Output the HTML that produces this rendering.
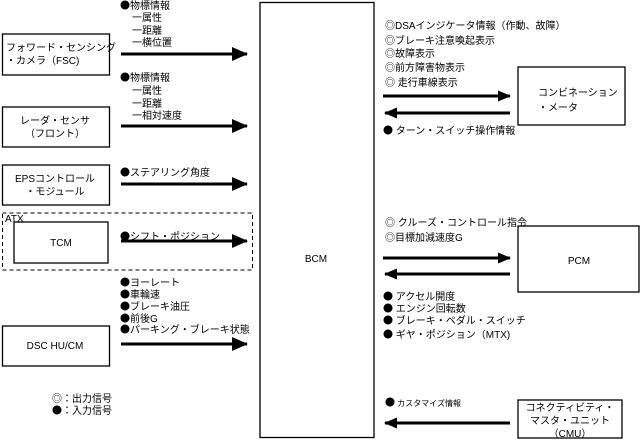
<!DOCTYPE html>
<html><head><meta charset="utf-8"><style>
html,body{margin:0;padding:0;background:#fff;}
svg{display:block;}
text{font-family:"Liberation Sans","Noto Sans CJK JP",sans-serif;font-size:10px;fill:#000;}
.b{font-family:"Noto Sans CJK JP",sans-serif;}
</style></head><body>
<svg width="643" height="441" viewBox="0 0 643 441" xmlns="http://www.w3.org/2000/svg">
<defs>
<marker id="ah" markerWidth="16" markerHeight="14" refX="15" refY="7" orient="auto" markerUnits="userSpaceOnUse"><path d="M0,0 L16,7 L0,14 Z" fill="#000"/></marker>
<marker id="ah2" markerWidth="13" markerHeight="11" refX="12" refY="5.5" orient="auto" markerUnits="userSpaceOnUse"><path d="M0,0 L13,5.5 L0,11 Z" fill="#000"/></marker>
</defs>
<g fill="none" stroke="#000" stroke-width="1.3">
<rect x="260" y="2.5" width="114" height="435"/>
<rect x="2.5" y="34" width="107" height="41"/>
<rect x="2.5" y="107" width="107" height="40"/>
<rect x="2.5" y="165" width="107" height="40"/>
<rect x="2.5" y="213" width="250" height="57" stroke-dasharray="4,3" stroke-width="1"/>
<rect x="14" y="222" width="94" height="41"/>
<rect x="2.5" y="326" width="107" height="40"/>
<rect x="518" y="67" width="107" height="58"/>
<rect x="518" y="226" width="121" height="66"/>
<rect x="518" y="400" width="104" height="38"/>
</g>
<g stroke="#000" stroke-width="3">
<line x1="121" y1="54" x2="247" y2="54" marker-end="url(#ah)"/>
<line x1="121" y1="126" x2="247" y2="126" marker-end="url(#ah)"/>
<line x1="121" y1="184" x2="247" y2="184" marker-end="url(#ah)"/>
<line x1="121" y1="241" x2="247" y2="241" marker-end="url(#ah)"/>
<line x1="121" y1="344" x2="247" y2="344" marker-end="url(#ah)"/>
<line x1="383" y1="96" x2="510" y2="96" marker-end="url(#ah2)"/>
<line x1="510" y1="113" x2="385" y2="113" marker-end="url(#ah2)"/>
<line x1="383" y1="258" x2="510" y2="258" marker-end="url(#ah2)"/>
<line x1="510" y1="274" x2="385" y2="274" marker-end="url(#ah2)"/>
<line x1="510" y1="423" x2="385" y2="423" marker-end="url(#ah2)"/>
</g>
<text x="316" y="262" text-anchor="middle">BCM</text>
<text x="6" y="51">フォワード・センシング</text>
<text x="6" y="64">・カメラ（FSC)</text>
<text x="55" y="124" text-anchor="middle">レーダ・センサ</text>
<text x="55" y="137" text-anchor="middle">（フロント）</text>
<text x="55" y="182" text-anchor="middle">EPSコントロール</text>
<text x="55" y="195" text-anchor="middle">・モジュール</text>
<text x="5" y="222">ATX</text>
<text x="61" y="246" text-anchor="middle">TCM</text>
<text x="55" y="349" text-anchor="middle">DSC HU/CM</text>
<text x="120" y="9"><tspan class="b">●</tspan>物標情報</text>
<text x="132" y="21">一属性</text>
<text x="132" y="34">一距離</text>
<text x="132" y="46">一横位置</text>
<text x="120" y="81"><tspan class="b">●</tspan>物標情報</text>
<text x="132" y="94">一属性</text>
<text x="132" y="107">一距離</text>
<text x="132" y="119">一相対速度</text>
<text x="120" y="176"><tspan class="b">●</tspan>ステアリング角度</text>
<text x="120" y="240"><tspan class="b">●</tspan>シフト・ポジション</text>
<text x="120" y="286"><tspan class="b">●</tspan>ヨーレート</text>
<text x="120" y="298"><tspan class="b">●</tspan>車輪速</text>
<text x="120" y="310"><tspan class="b">●</tspan>ブレーキ油圧</text>
<text x="120" y="322"><tspan class="b">●</tspan>前後G</text>
<text x="120" y="333"><tspan class="b">●</tspan>パーキング・ブレーキ状態</text>
<text x="52" y="402"><tspan class="b">◎</tspan>：出力信号</text>
<text x="52" y="414"><tspan class="b">●</tspan>：入力信号</text>
<text x="385" y="29"><tspan class="b">◎</tspan>DSAインジケータ情報（作動、故障）</text>
<text x="385" y="44"><tspan class="b">◎</tspan>ブレーキ注意喚起表示</text>
<text x="385" y="57"><tspan class="b">◎</tspan>故障表示</text>
<text x="385" y="71"><tspan class="b">◎</tspan>前方障害物表示</text>
<text x="385" y="86"><tspan class="b">◎</tspan> 走行車線表示</text>
<text x="383" y="134"><tspan class="b">●</tspan> ターン・スイッチ操作情報</text>
<text x="538" y="96">コンビネーション</text>
<text x="538" y="111">・メータ</text>
<text x="385" y="226"><tspan class="b">◎</tspan> クルーズ・コントロール指令</text>
<text x="385" y="241"><tspan class="b">◎</tspan>目標加減速度G</text>
<text x="579" y="264" text-anchor="middle">PCM</text>
<text x="383" y="300"><tspan class="b">●</tspan> アクセル開度</text>
<text x="383" y="312"><tspan class="b">●</tspan> エンジン回転数</text>
<text x="383" y="324"><tspan class="b">●</tspan> ブレーキ・ペダル・スイッチ</text>
<text x="383" y="338"><tspan class="b">●</tspan> ギヤ・ポジション（MTX)</text>
<text x="385" y="406" style="font-size:8px"><tspan class="b" style="font-size:10px">●</tspan> カスタマイズ情報</text>
<text x="570" y="411" text-anchor="middle">コネクティビティ・</text>
<text x="570" y="424" text-anchor="middle">マスタ・ユニット</text>
<text x="570" y="437" text-anchor="middle">（CMU）</text>
</svg>
</body></html>
